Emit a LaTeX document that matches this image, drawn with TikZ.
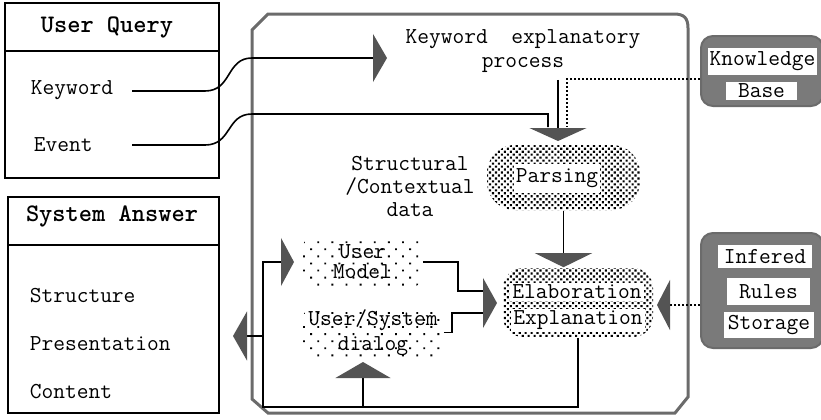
\documentclass[tikz,border=0pt]{standalone}
\usepackage{fontspec}
\usepackage{xcolor}
\usepackage{tikz}
\usetikzlibrary{arrows.meta, positioning, patterns.meta}

\definecolor{tipgray}{gray}{0.33}
\definecolor{rimgray}{gray}{0.42}
\definecolor{storegray}{gray}{0.48}

\begin{document}
\begin{tikzpicture}[
    x=0.5pt, y=-0.5pt,
    font=\ttfamily\fontsize{11.4}{12}\selectfont,
    line width=0.8pt,
    panel/.style={draw, line width=1pt, inner sep=0pt},
    title/.style={font=\ttfamily\fontsize{12.6}{13}\selectfont\bfseries},
    item/.style={anchor=west, inner sep=0pt},
    denseblob/.style={pattern={Dots[distance=2.1pt, radius=0.75pt, angle=45]}, pattern color=black, rounded corners=#1, inner sep=0pt},
    sparseblob/.style={pattern={Dots[distance=5pt, radius=0.65pt, angle=45]}, pattern color=black, rounded corners=5pt, inner sep=0pt, align=center},
    store/.style={fill=storegray, draw=rimgray, line width=1pt, rounded corners=6pt, inner sep=0pt},
    plate/.style={fill=white, inner sep=1pt},
    dotline/.style={densely dotted, line width=1pt},
    bighead/.style 2 args={-{Triangle[length=#1, width=#2, color=tipgray, fill=tipgray]}}
]
\useasboundingbox (0,0) rectangle (821,419);

% left panels
\node[panel, minimum width=107pt, minimum height=87.5pt] (query) at (112,90.5) {};
\draw[line width=1pt] (query.west |- 0,51) -- (query.east |- 0,51);
\node[title] (qtitle) at (107,27) {User Query};
\node[item] (kw) at (30,90) {Keyword};
\node[item] (ev) at (33,145) {Event};

\node[panel, minimum width=105.5pt, minimum height=108pt] (answer) at (113.5,305) {};
\draw[line width=1pt] (answer.west |- 0,245) -- (answer.east |- 0,245);
\node[title] (atitle) at (112,216) {System Answer};
\node[item] (st) at (29,296) {Structure};
\node[item] (pr) at (29,344) {Presentation};
\node[item] (co) at (29,392) {Content};

% process frame
\draw[rimgray, line width=1.5pt] (252,30) -- (268,14) -- (674,14)
    .. controls (684,14) and (688,18) .. (688,28) -- (688,397) -- (675,413)
    -- (268,413) -- (252,399) -- cycle;

\node[align=center] (kep) at (523,51) {Keyword\ \ explanatory\\process};
\node[align=center, font=\ttfamily\fontsize{11.4}{11.5}\selectfont] (ctx) at (410,186) {Structural\\/Contextual\\data};

\node[denseblob=14pt, minimum width=76.5pt, minimum height=32.5pt] (parse) at (563.5,177.5) {};
\node[plate, minimum height=14.5pt] (parsetxt) at (557,178) {Parsing};
\node[denseblob=10pt, minimum width=75pt, minimum height=34.5pt] (elab) at (578,302.5) {};
\node[plate] (elabtxt) at (577,292) {Elaboration};
\node[plate] (expltxt) at (578,320) {Explanation};

\node[sparseblob, minimum width=59.5pt, minimum height=25pt, font=\ttfamily\fontsize{11.4}{10}\selectfont] (model) at (362.5,262) {User\\Model};
\node[sparseblob, minimum width=70pt, minimum height=24.5pt, font=\ttfamily\fontsize{11.4}{12.5}\selectfont] (dialog) at (373,332.5) {User/System\\dialog};

% stores on the right
\node[store, minimum width=61pt, minimum height=35pt] (kb) at (762,71) {};
\node[plate, minimum height=13.5pt] (kbtop) at (762.5,61.5) {Knowledge};
\node[plate, inner xsep=6pt, minimum height=9pt] (kbbot) at (761.5,91) {Base};

\node[store, minimum width=61pt, minimum height=57.5pt] (rules) at (762,290.5) {};
\node[plate, inner xsep=3pt, minimum height=11.5pt] (inf) at (765,256.5) {Infered};
\node[plate, inner xsep=6pt, minimum height=13.5pt] (rul) at (768.5,291.5) {Rules};
\node[plate, inner xsep=2pt, minimum height=13pt] (sto) at (769,325) {Storage};

% ends and bends
\coordinate (kwout) at (132,91);
\coordinate (evout) at (132,145);
\coordinate (kwtip) at (387,58);
\coordinate (evdrop) at (548,127);
\coordinate (kbdrop) at (567,127);
\coordinate (parsetip) at (558,141);
\coordinate (mergetip) at (497,303);
\coordinate (rulestip) at (657,305);
\coordinate (loop) at (263,407);
\coordinate (modeltip) at (294,262);
\coordinate (answertip) at (233,336);
\coordinate (dialogtip) at (363,362);

\draw[bighead={7pt}{24pt}] (kwout) -- (205,91) .. controls (232,91) and (226,58) .. (252,58) -- (kwtip);
\draw (evout) -- (205,145) .. controls (232,145) and (226,114) .. (252,114) -| (evdrop);
\draw[dotline] ([yshift=-4pt]kb.west) -| (kbdrop);
\draw[bighead={6.5pt}{28.5pt}] (kep.south -| parsetip) -- (parsetip);
\draw[bighead={7pt}{28.5pt}] (parse.south) -- (parse.south |- elab.north);

\draw (model.east) -| (458,291) -- (483,291);
\draw (dialog.east) -| (452,313) -- (483,313);
\draw[bighead={7pt}{25pt}] (483,303) -- (mergetip);
\draw[dotline, bighead={6.5pt}{25pt}] ([yshift=-7.25pt]rules.west) -- (rulestip);

\draw[bighead={6.5pt}{24pt}] (elab.south) |- (loop) |- (modeltip);
\draw[bighead={7pt}{24.5pt}] (loop |- answertip) -- (answertip);
\draw[bighead={8pt}{27.5pt}] (dialogtip |- loop) -- (dialogtip);

\end{tikzpicture}
\end{document}
